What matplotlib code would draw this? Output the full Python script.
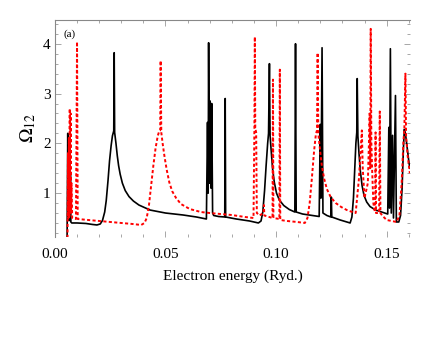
import numpy as np
import matplotlib
matplotlib.use('Agg')
import matplotlib.pyplot as plt
from matplotlib.ticker import MultipleLocator

plt.rcParams['font.family'] = ['Liberation Serif', 'DejaVu Serif']
plt.rcParams['mathtext.fontset'] = 'stix'

# black solid curve (energy, Omega)
black_x = [0.0055, 0.0058, 0.0060, 0.0062, 0.0064, 0.0066, 0.0068, 0.0070, 0.0072, 0.0076,
           0.010, 0.014, 0.017, 0.019, 0.0205, 0.0215, 0.0225, 0.0232, 0.0240, 0.0247,
           0.0254, 0.026, 0.0266, 0.0268, 0.0270, 0.0276, 0.0282, 0.0288, 0.0295, 0.0305,
           0.0318, 0.0335, 0.0355, 0.038, 0.043, 0.050,
           0.058, 0.064, 0.0685, 0.0690, 0.0693, 0.0695, 0.0698, 0.0702, 0.0706, 0.0709,
           0.0713, 0.0718, 0.074, 0.0768, 0.0770, 0.0772, 0.082, 0.088, 0.092, 0.0932,
           0.0940, 0.0948, 0.0955, 0.0962, 0.0966, 0.0970, 0.0973, 0.0978, 0.0984, 0.0992,
           0.1002, 0.1015, 0.1035, 0.106, 0.1085, 0.1088, 0.1091, 0.112, 0.1195, 0.1200,
           0.1203, 0.1208, 0.1212, 0.123, 0.1248, 0.1250, 0.1252, 0.129, 0.1335, 0.1343,
           0.1350, 0.1356, 0.1361, 0.1365, 0.1367, 0.1370, 0.1375, 0.1381, 0.1389, 0.1398,
           0.141, 0.1425, 0.145, 0.1505, 0.1510, 0.1513, 0.1517,
           0.1521, 0.1527, 0.1531, 0.1540, 0.1544, 0.1555, 0.1563, 0.1570, 0.1576, 0.158,
           0.1585, 0.1592, 0.1600, 0.1605]
black_y = [0.10, 2.20, 0.50, 2.10, 0.45, 1.80, 0.45, 1.40, 0.42, 0.40,
           0.40, 0.39, 0.37, 0.36, 0.38, 0.45, 0.62, 0.85, 1.25, 1.65,
           1.95, 2.15, 2.25, 3.82, 2.22, 2.00, 1.75, 1.55, 1.38, 1.20,
           1.05, 0.93, 0.84, 0.76, 0.66, 0.60,
           0.56, 0.52, 0.48, 2.42, 1.00, 4.02, 1.20, 2.85, 1.10, 2.80,
           0.60, 0.55, 0.53, 0.52, 2.90, 0.52, 0.48, 0.44, 0.40, 0.44,
           0.62, 1.05, 1.55, 2.00, 2.20, 3.60, 2.15, 1.85, 1.50, 1.22,
           1.00, 0.86, 0.75, 0.67, 0.62, 4.00, 0.62, 0.58, 0.53, 2.38,
           0.90, 3.92, 0.60, 0.55, 0.52, 0.92, 0.52, 0.46, 0.40, 0.52,
           0.90, 1.50, 2.00, 2.22, 3.30, 2.15, 1.80, 1.45, 1.15, 0.95,
           0.82, 0.73, 0.66, 0.58, 2.32, 0.70, 3.90,
           0.60, 2.16, 0.50, 2.96, 0.42, 0.42, 0.55, 1.10, 1.90, 2.28,
           2.20, 1.95, 1.65, 1.50]

# red dotted curve (energy, Omega)
red_x = [0.0057, 0.0059, 0.0061, 0.0063, 0.0065, 0.0067, 0.0069, 0.0071, 0.0073, 0.0075,
         0.0078, 0.0095, 0.0100, 0.0103, 0.015, 0.020, 0.025, 0.030, 0.035, 0.039,
         0.0405, 0.0415, 0.0425, 0.0435, 0.0445, 0.0455, 0.0465, 0.0472, 0.0476, 0.0478,
         0.0481, 0.0487, 0.0495, 0.0505, 0.0517, 0.053, 0.0548, 0.057, 0.061, 0.066,
         0.070, 0.075, 0.080, 0.086,
         0.0898, 0.0902, 0.0904, 0.0906, 0.0910, 0.0913, 0.0925, 0.0943, 0.0945, 0.0947,
         0.0984, 0.0986, 0.0988, 0.1015, 0.1017, 0.1019, 0.105, 0.1095, 0.1130, 0.1142,
         0.1152, 0.1162, 0.1172, 0.1180, 0.1185, 0.1188, 0.1191, 0.1198, 0.1207, 0.1218,
         0.123, 0.1247, 0.127, 0.1295, 0.132, 0.1345, 0.1360, 0.1375, 0.1388, 0.1392,
         0.1400, 0.1415, 0.1420,
         0.1423, 0.1426, 0.1428, 0.1431, 0.1435, 0.1440, 0.1445, 0.1448, 0.1450, 0.1452,
         0.1466, 0.1469, 0.1472, 0.148, 0.150, 0.1545, 0.1558, 0.1568, 0.1576, 0.1580,
         0.1585, 0.1588, 0.1595, 0.1605]
red_y = [0.10, 1.80, 0.50, 2.10, 0.50, 2.70, 0.60, 2.60, 0.60, 1.20,
         0.50, 0.48, 4.04, 0.48, 0.46, 0.44, 0.42, 0.40, 0.38, 0.36,
         0.40, 0.50, 0.75, 1.15, 1.55, 1.90, 2.15, 2.25, 2.26, 3.66,
         2.22, 2.00, 1.75, 1.48, 1.22, 1.04, 0.90, 0.78, 0.68, 0.62,
         0.60, 0.58, 0.56, 0.52,
         0.50, 2.30, 4.14, 2.30, 2.22, 0.60, 0.55, 0.60, 0.76, 0.55,
         0.50, 3.28, 0.50, 0.48, 3.48, 0.46, 0.44, 0.42, 0.40, 0.50,
         0.80, 1.30, 1.85, 2.18, 2.26, 3.82, 2.20, 1.90, 1.55, 1.28,
         1.08, 0.92, 0.80, 0.72, 0.66, 0.62, 0.60, 1.30, 2.26, 1.50,
         0.90, 1.20, 2.00,
         2.60, 1.50, 4.30, 2.00, 1.40, 0.80, 0.66, 0.62, 2.22, 0.60,
         0.60, 2.64, 0.60, 0.55, 0.46, 0.42, 0.55, 1.20, 2.05, 2.26,
         3.40, 2.15, 1.75, 1.40]

x_ticks = [0.00, 0.05, 0.10, 0.15]
x_tick_labels = ['0.00', '0.05', '0.10', '0.15']
y_ticks = [1, 2, 3, 4]

fig = plt.figure(figsize=(4.36, 3.37), dpi=100)
ax = fig.add_axes([0.126, 0.297, 0.814, 0.644])

ax.plot(black_x, black_y, color='black', lw=1.2)
ax.plot(red_x, red_y, color='red', lw=1.4, linestyle=(0, (1.6, 1.2)))

ax.set_xlim(0, 0.1605)
ax.set_ylim(0.12, 4.48)
ax.set_xticks(x_ticks)
ax.set_xticklabels(x_tick_labels)
ax.set_yticks(y_ticks)
ax.xaxis.set_minor_locator(MultipleLocator(0.01))
ax.yaxis.set_minor_locator(MultipleLocator(0.2))
ax.tick_params(which='both', direction='in', top=True, right=True, color='#999999',
               labelsize=11, width=0.6)
ax.tick_params(which='major', length=4)
ax.tick_params(which='minor', length=2)
ax.tick_params(axis='x', pad=8)
ax.tick_params(axis='y', pad=3)

for side in ['bottom', 'right']:
    ax.spines[side].set_visible(False)
for side in ['top', 'left']:
    ax.spines[side].set_color('#888888')
    ax.spines[side].set_linewidth(0.8)

ax.set_xlabel('Electron energy (Ryd.)', fontsize=11, labelpad=6)
ax.set_ylabel(r'$\Omega_{12}$', fontsize=14, labelpad=4)
ax.text(0.025, 0.955, '(a)', transform=ax.transAxes, fontsize=8, va='top', ha='left')

fig.savefig('out.png', dpi=100)
